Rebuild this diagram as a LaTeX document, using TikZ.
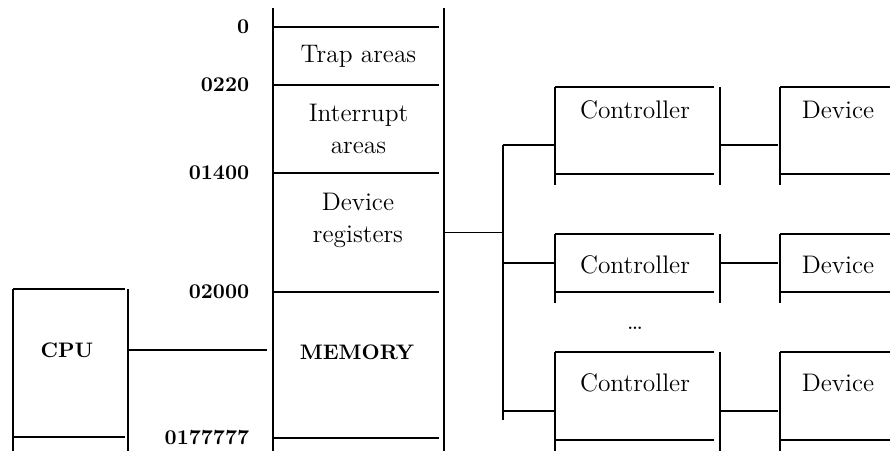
\documentclass[tikz,border=0pt]{standalone}
\usetikzlibrary{positioning}

\tikzset{every picture/.style={line width=0.8pt}}
\tikzset{
  sect/.style={rectangle, inner sep=0pt, outer sep=0pt, minimum width=85.5pt},
  blk/.style={rectangle, inner sep=0pt, outer sep=0pt},
  txt/.style={inner sep=0pt, align=center, font=\fontsize{12.7}{16}\selectfont},
  bld/.style={inner sep=0pt, font=\fontsize{10.5}{13}\selectfont\bfseries},
}

\begin{document}
\begin{tikzpicture}[x=0.5pt,y=0.5pt,yscale=-1]
  \path[use as bounding box, clip] (0,0) rectangle (890,451);

  %Shape: Memory sections
  \node[sect, minimum height=29pt, anchor=north] (trap) at (358.5,27) {};
  \node[sect, minimum height=44pt, below=0pt of trap] (intr) {};
  \node[sect, minimum height=59.5pt, below=0pt of intr] (regs) {};
  \node[sect, minimum height=73pt, below=0pt of regs] (main) {};
  \foreach \s in {trap,intr,regs,main}
    \draw[shorten >=2.5pt] (\s.north west) -- (\s.north east);
  \draw[shorten >=2.5pt] (main.south west) -- (main.south east);
  \draw (trap.north west) ++(0,-19) -- (main.south west) -- ++(0,13);
  \draw (trap.north east) ++(0,-19) -- (main.south east) -- ++(0,13);

  % Text Node
  \node[bld, left=11.5pt of trap.north west] (a0) {0};
  \node[bld, left=11.5pt of intr.north west] (a1) {0220};
  \node[bld, left=11.5pt of regs.north west] (a2) {01400};
  \node[bld, left=11.5pt of main.north west] (a3) {02000};
  \node[bld, left=11.5pt of main.south west] (a4) {0177777};
  \node[txt] (trapt) at (trap) {Trap areas};
  \node[txt] (intrt) at (intr) {Interrupt\\areas};
  \node[txt] (regst) at (358,220) {Device\\registers};
  \node[bld] (memt) at (357,352) {MEMORY};

  %Shape: CPU
  \node[blk, minimum width=57.5pt, minimum height=74pt] (cpu) at (70.5,363) {};
  \draw[shorten >=1.5pt] (cpu.north west) -- (cpu.north east);
  \draw[shorten >=1.5pt] (cpu.south west) -- (cpu.south east);
  \draw (cpu.north west) -- (cpu.south west) -- ++(0,14);
  \draw (cpu.north east) -- (cpu.south east) -- ++(0,14);
  \node[bld] (cput) at (67,350) {CPU};

  %Straight Lines
  \draw[shorten >=3pt] (cput -| cpu.east) -- (cput -| trap.west);

  %Shape: Controllers and devices
  \foreach \i/\y/\h/\ty in {1/130.5/43.5/110, 2/263/29/265, 3/396/44/383} {
    \node[blk, minimum width=82.5pt, minimum height=\h pt] (c\i) at (637.5,\y) {};
    \node[blk, minimum width=58pt, minimum height=\h pt] (d\i) at (838,\y) {};
    \node[txt] (c\i t) at (635,\ty) {Controller};
    \node[txt] (d\i t) at (838,\ty) {Device};
  }
  \foreach \b in {c1,c2,c3,d1,d2,d3} {
    \draw[shorten >=3pt] (\b.north west) -- (\b.north east);
    \draw[shorten >=3pt] (\b.south west) -- (\b.south east);
    \draw (\b.north west) -- (\b.south west) -- ++(0,11);
    \draw (\b.north east) -- (\b.south east) -- ++(0,11);
  }
  \node[txt] (dots) at (635,328) {\dots};

  %Straight Lines: bus
  \coordinate (t1) at (503,145);
  \coordinate (t2) at (503,263);
  \coordinate (t3) at (503,411);
  \coordinate (busb) at (503,420);
  \draw (t1) -- (busb);
  \draw (regs.east) -- (regs.east -| t1);
  \foreach \i in {1,2,3} {
    \draw (t\i) -- (t\i -| c\i.west);
    \draw[shorten >=1pt] (t\i -| c\i.east) -- (t\i -| d\i.west);
  }

\end{tikzpicture}
\end{document}
